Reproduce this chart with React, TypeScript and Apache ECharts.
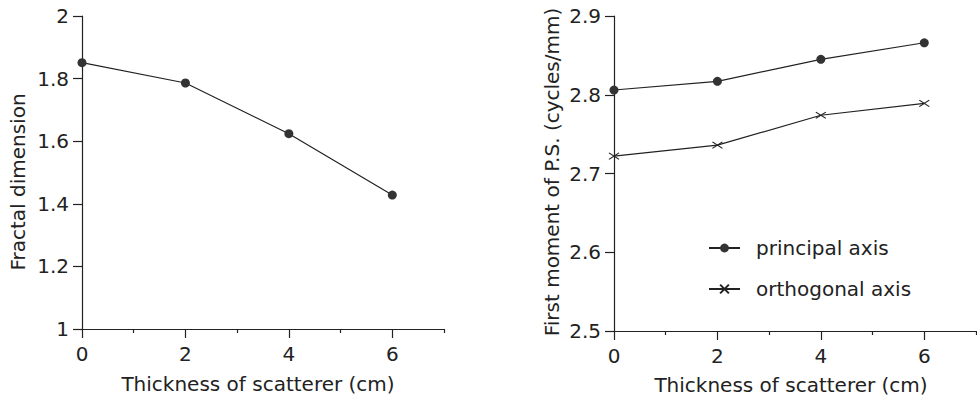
import React, { useEffect, useRef } from "react";
import * as echarts from "echarts";

const thickness = [0, 2, 4, 6];
const fractalDimension = [1.851, 1.786, 1.624, 1.428];
const principalAxis = [2.806, 2.817, 2.845, 2.866];
const orthogonalAxis = [2.722, 2.736, 2.774, 2.789];
const xMajorTicks = [0, 2, 4, 6];
const xMinorTicks = [1, 3, 5, 7];
const xTitle = "Thickness of scatterer (cm)";
const leftYTitle = "Fractal dimension";
const rightYTitle = "First moment of P.S. (cycles/mm)";
const seriesNames = ["principal axis", "orthogonal axis"];

const FONT = "DejaVu Sans";
const INK = "#222";

const pairs = (ys: number[]) => thickness.map((x, i) => [x, ys[i]]);

export default function App() {
  const ref = useRef<HTMLDivElement>(null);
  useEffect(() => {
    if (!ref.current) return;
    const chart = echarts.init(ref.current, null, { renderer: "svg" });
    const grids = [
      { left: 82, top: 16, width: 362, height: 313 },
      { left: 614, top: 16, width: 362, height: 315 },
    ];
    const majorX = (g: number) => ({
      type: "value",
      gridIndex: g,
      position: "bottom",
      min: 0,
      max: 7,
      interval: 1,
      axisLine: { show: true, onZero: false, lineStyle: { color: INK, width: 1.2 } },
      axisTick: { show: true, inside: false, customValues: xMajorTicks, length: 9, lineStyle: { color: INK, width: 1.2 } },
      axisLabel: { customValues: xMajorTicks, margin: 15, color: INK, fontSize: 20, fontFamily: FONT },
      splitLine: { show: false },
    });
    const minorX = (g: number) => ({
      type: "value",
      gridIndex: g,
      position: "bottom",
      offset: 0,
      min: 0,
      max: 7,
      interval: 1,
      axisLine: { show: false, onZero: false },
      axisTick: { show: true, inside: false, customValues: xMinorTicks, length: 4, lineStyle: { color: INK, width: 1.2 } },
      axisLabel: { show: false },
      splitLine: { show: false },
    });
    const yAx = (g: number, min: number, max: number, interval: number) => ({
      type: "value",
      gridIndex: g,
      min,
      max,
      interval,
      axisLine: { show: true, onZero: false, lineStyle: { color: INK, width: 1.2 } },
      axisTick: { show: true, inside: false, length: 9, lineStyle: { color: INK, width: 1.2 } },
      axisLabel: { margin: 13, color: INK, fontSize: 20, fontFamily: FONT },
      splitLine: { show: false },
    });
    const titleText = (x: number, y: number, text: string, rotation = 0) => ({
      type: "text",
      x,
      y,
      rotation,
      style: {
        text,
        fill: INK,
        font: `20px "${FONT}"`,
        textAlign: "center",
        textVerticalAlign: "middle",
      },
    });
    chart.setOption({
      animation: false,
      backgroundColor: "#fff",
      grid: grids,
      xAxis: [majorX(0), minorX(0), majorX(1), minorX(1)],
      yAxis: [yAx(0, 1, 2, 0.2), yAx(1, 2.5, 2.9, 0.1)],
      legend: {
        orient: "vertical",
        left: 708,
        top: 236,
        padding: 0,
        itemWidth: 31,
        itemHeight: 11,
        itemGap: 17,
        data: seriesNames,
        textStyle: { color: INK, fontSize: 20, fontFamily: FONT, lineHeight: 24, padding: [0, 0, 0, 11] },
      },
      series: [
        {
          type: "line",
          name: leftYTitle,
          xAxisIndex: 0,
          yAxisIndex: 0,
          data: pairs(fractalDimension),
          symbol: "circle",
          symbolSize: 9,
          itemStyle: { color: "#333" },
          lineStyle: { color: INK, width: 1.2 },
        },
        {
          type: "line",
          name: seriesNames[0],
          xAxisIndex: 2,
          yAxisIndex: 1,
          data: pairs(principalAxis),
          symbol: "circle",
          symbolSize: 9,
          itemStyle: { color: "#333" },
          lineStyle: { color: INK, width: 1.2 },
        },
        {
          type: "line",
          name: seriesNames[1],
          xAxisIndex: 2,
          yAxisIndex: 1,
          data: pairs(orthogonalAxis),
          symbol: "path://M0,0L10,8M10,0L0,8",
          symbolSize: [10, 8],
          symbolKeepAspect: true,
          itemStyle: { color: INK, borderColor: INK, borderWidth: 1.1 },
          lineStyle: { color: INK, width: 1.2 },
        },
      ],
      graphic: [
        titleText(258, 384, xTitle),
        titleText(791, 385, xTitle),
        titleText(18, 182, leftYTitle, Math.PI / 2),
        titleText(552, 172, rightYTitle, Math.PI / 2),
      ],
    });
    return () => chart.dispose();
  }, []);
  return (
    <div
      ref={ref}
      style={{ position: "absolute", left: 0, top: 0, width: 977, height: 398 }}
    />
  );
}
